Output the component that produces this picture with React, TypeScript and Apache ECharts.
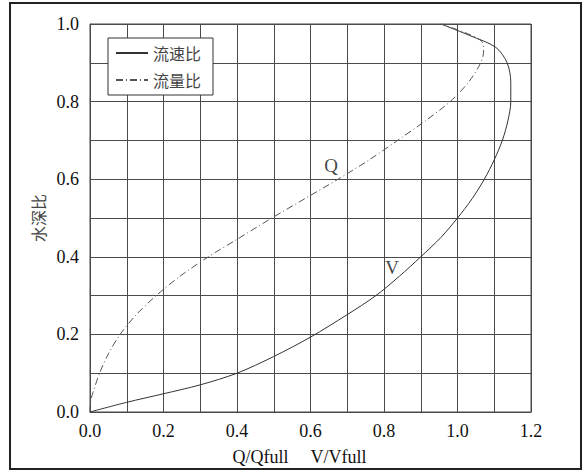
import React, { useEffect, useRef } from "react";
import * as echarts from "echarts";

// Velocity ratio curve: [V/Vfull, depth ratio]
const velocityRatio: [number, number][] = [
  [0, 0], [0.1, 0.025], [0.2, 0.047], [0.3, 0.07], [0.4, 0.1], [0.5, 0.143],
  [0.6, 0.193], [0.7, 0.251], [0.778, 0.3], [0.842, 0.35], [0.9, 0.4],
  [0.955, 0.45], [1.0, 0.5], [1.04, 0.55], [1.073, 0.6], [1.1, 0.65], [1.122, 0.7],
  [1.137, 0.75], [1.145, 0.8], [1.145, 0.85], [1.135, 0.9], [1.104, 0.94], [1.034, 0.97],
  [0.955, 1.0],
];

// Flow ratio curve: [Q/Qfull, depth ratio]
const flowRatio: [number, number][] = [
  [0, 0], [0.002, 0.03], [0.008, 0.05], [0.026, 0.1], [0.05, 0.15], [0.082, 0.2],
  [0.125, 0.25], [0.18, 0.3], [0.245, 0.35], [0.322, 0.4], [0.4, 0.445], [0.495, 0.5],
  [0.585, 0.55], [0.675, 0.6], [0.76, 0.65], [0.837, 0.7], [0.912, 0.75], [0.98, 0.8],
  [1.03, 0.85], [1.063, 0.9], [1.071, 0.93], [1.066, 0.955], [1.02, 0.978], [0.955, 1.0],
];

const seriesNames = ["流速比", "流量比"];
const xTickLabels = ["0.0", "0.2", "0.4", "0.6", "0.8", "1.0", "1.2"];
const yTickLabels = ["0.0", "0.2", "0.4", "0.6", "0.8", "1.0"];
const curveLabels = [
  { name: "Q", value: [0.656, 0.636] },
  { name: "V", value: [0.822, 0.373] },
];
const xAxisTitle = "Q/Qfull     V/Vfull";
const yAxisTitle = "水深比";

const serif = "Liberation Serif";
const cjk = "Noto Sans CJK SC";
const gridColor = "#4a4a4a";

export default function App() {
  const ref = useRef<HTMLDivElement>(null);
  useEffect(() => {
    if (!ref.current) return;
    const chart = echarts.init(ref.current, undefined, { renderer: "svg" });
    chart.setOption({
      animation: false,
      backgroundColor: "#ffffff",
      textStyle: { fontFamily: serif },
      grid: {
        left: 90, right: 55, top: 24, bottom: 60,
        show: true, borderColor: gridColor, borderWidth: 1,
      },
      graphic: [
        {
          type: "rect",
          shape: { x: 10, y: 3, width: 571, height: 466 },
          style: { fill: "none", stroke: "#222", lineWidth: 2 },
          silent: true,
        },
      ],
      legend: {
        data: seriesNames,
        orient: "vertical",
        left: 108,
        top: 38,
        padding: [6, 12, 6, 7],
        itemGap: 9,
        itemWidth: 32,
        itemHeight: 14,
        borderColor: "#333",
        borderWidth: 1,
        backgroundColor: "#fff",
        itemStyle: { opacity: 0 },
        textStyle: { fontFamily: cjk, fontSize: 16, color: "#444", lineHeight: 18 },
      },
      xAxis: {
        type: "value",
        min: 0,
        max: 1.2,
        interval: 0.2,
        name: xAxisTitle,
        nameLocation: "middle",
        nameGap: 36,
        nameTextStyle: { fontFamily: serif, fontSize: 18, color: "#111", padding: [0, 22, 0, 0] },
        axisLine: { show: true, lineStyle: { color: gridColor, width: 1 } },
        axisTick: { show: false },
        axisLabel: {
          margin: 10,
          fontFamily: serif,
          fontSize: 18,
          color: "#111",
          formatter: (v: number) => xTickLabels[Math.round(v / 0.2)] ?? "",
        },
        splitLine: { show: true, lineStyle: { color: gridColor, width: 1 } },
        minorTick: { show: false, splitNumber: 2 },
        minorSplitLine: { show: true, lineStyle: { color: gridColor, width: 1 } },
      },
      yAxis: {
        type: "value",
        min: 0,
        max: 1.0,
        interval: 0.2,
        name: yAxisTitle,
        nameLocation: "middle",
        nameRotate: 90,
        nameGap: 42,
        nameTextStyle: { fontFamily: cjk, fontSize: 16, color: "#444" },
        axisLine: { show: true, lineStyle: { color: gridColor, width: 1 } },
        axisTick: { show: false },
        axisLabel: {
          margin: 11,
          fontFamily: serif,
          fontSize: 18,
          color: "#111",
          formatter: (v: number) => yTickLabels[Math.round(v / 0.2)] ?? "",
        },
        splitLine: { show: true, lineStyle: { color: gridColor, width: 1 } },
        minorTick: { show: false, splitNumber: 2 },
        minorSplitLine: { show: true, lineStyle: { color: gridColor, width: 1 } },
      },
      series: [
        {
          name: seriesNames[0],
          type: "line",
          data: velocityRatio,
          symbol: "none",
          smooth: 0.3,
          lineStyle: { color: "#333", width: 1, type: "solid" },
          itemStyle: { color: "#333" },
        },
        {
          name: seriesNames[1],
          type: "line",
          data: flowRatio,
          symbol: "none",
          smooth: 0.3,
          lineStyle: { color: "#555", width: 1, type: [7, 3, 1, 3] },
          itemStyle: { color: "#555" },
        },
        {
          name: "curveLabels",
          type: "scatter",
          data: curveLabels,
          symbolSize: 1,
          itemStyle: { color: "rgba(0,0,0,0)" },
          silent: true,
          label: {
            show: true,
            position: "inside",
            formatter: "{b}",
            fontFamily: serif,
            fontSize: 19,
            color: "#111",
          },
        },
      ],
    });
    return () => chart.dispose();
  }, []);
  return (
    <div
      ref={ref}
      style={{ position: "fixed", left: 0, top: 0, width: 586, height: 472 }}
    />
  );
}
